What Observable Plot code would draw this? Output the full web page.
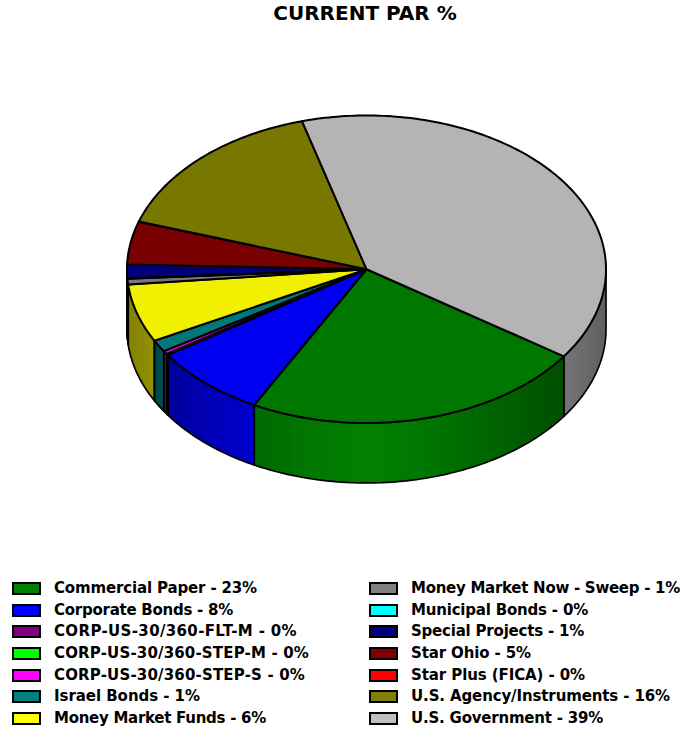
<!DOCTYPE html>
<html>
<head>
<meta charset="utf-8">
<script src="https://cdn.jsdelivr.net/npm/d3@7"></script>
<script src="https://cdn.jsdelivr.net/npm/@observablehq/plot@0.6"></script>
<style>
html,body{margin:0;padding:0;background:#fff;overflow:hidden;width:688px;height:734px;}
body{font-family:"DejaVu Sans",sans-serif;color:#000;position:relative;}
#title{height:30px;line-height:26px;text-align:center;font-weight:bold;font-size:20px;padding-left:42px;box-sizing:border-box;}
#chart{height:520px;}
#chart svg{display:block;}
#legend{position:absolute;left:0;top:577px;width:688px;}
.item{position:absolute;height:22px;line-height:22px;font-weight:bold;font-size:15px;white-space:nowrap;}
.sw{position:absolute;left:0;top:5px;width:25px;height:9px;border:2px solid #000;}
.lb{position:absolute;left:42px;top:0;}
</style>
</head>
<body>
<div id="title">CURRENT PAR %</div>
<div id="chart"></div>
<div id="legend"></div>
<script>
const categories = ["Commercial Paper","Corporate Bonds","CORP-US-30/360-FLT-M","CORP-US-30/360-STEP-M","CORP-US-30/360-STEP-S","Israel Bonds","Money Market Funds","Money Market Now - Sweep","Municipal Bonds","Special Projects","Star Ohio","Star Plus (FICA)","U.S. Agency/Instruments","U.S. Government"];
const values = [23.2,7.8,0.1,0.05,0.35,1.25,6.1,0.6,0.05,1.45,4.5,0.02,15.65,38.95];
const percentLabels = [23,8,0,0,0,1,6,1,0,1,5,0,16,39];
const colors = ["#008000","#0000ff","#800080","#00ff00","#ff00ff","#008080","#ffff00","#808080","#00ffff","#000080","#800000","#ff0000","#808000","#c0c0c0"];
const labelWidths = [203,179,243,255,251,146,212,269,177,173,120,174,259,192];
const startAngle = 34.5;
const depth = 0.39;

const total = d3.sum(values);
const rad = d => d * Math.PI / 180;
const shade = (c, f) => { const r = d3.rgb(c); return d3.rgb(r.r * f, r.g * f, r.b * f).formatHex(); };
const angles = (a0, a1, step = 1) => { const out = [a0]; for (let a = Math.ceil((a0 + 0.001) / step) * step; a < a1; a += step) out.push(a); out.push(a1); return out; };

let cursor = startAngle;
const slices = categories.map((name, i) => {
  const a0 = cursor; cursor += values[i] / total * 360;
  return {name, color: colors[i], a0, a1: cursor};
});

const topPts = [], sidePts = [], strips = [];
for (const s of slices) {
  const fillTop = shade(s.color, 0.94);
  topPts.push({id: s.name, x: 0, y: 0, fill: fillTop});
  for (const a of angles(s.a0, s.a1)) topPts.push({id: s.name, x: Math.cos(rad(a)), y: Math.sin(rad(a)), fill: fillTop});
  topPts.push({id: s.name, x: 0, y: 0, fill: fillTop});
  for (const [lo, hi] of [[0, 180], [360, 540]]) {
    const p = Math.max(s.a0, lo), q = Math.min(s.a1, hi);
    if (q <= p) continue;
    const as = angles(p, q), key = s.name + "|" + lo;
    const first = {id: key, x: Math.cos(rad(as[0])), y: Math.sin(rad(as[0]))};
    sidePts.push(first);
    for (const a of as.slice(1)) sidePts.push({id: key, x: Math.cos(rad(a)), y: Math.sin(rad(a))});
    for (const a of as.slice().reverse()) sidePts.push({id: key, x: Math.cos(rad(a)), y: Math.sin(rad(a)) + depth});
    sidePts.push(first);
    // shading bands: each band runs on past its end, the next one paints over it
    const bands = angles(p, q, 2);
    bands.slice(0, -1).forEach((a, k) => {
      const mid = Math.abs(Math.cos(rad((a + bands[k + 1]) / 2)));
      const col = shade(s.color, 1 - 0.5 * Math.pow(mid, 1.3));
      for (const t of angles(a, Math.min(q, bands[k + 1] + 2))) strips.push({id: key + "|" + String(k).padStart(4, "0"), x: Math.cos(rad(t)), y1: Math.sin(rad(t)), y2: Math.sin(rad(t)) + depth, color: col});
    });
  }
}

const plot = Plot.plot({
  width: 688, height: 520,
  marginTop: 0, marginBottom: 0, marginLeft: 0, marginRight: 0,
  x: {domain: [-1, 1], range: [126.5, 605.5], axis: null},
  y: {domain: [-1, 1], range: [85, 392.5], axis: null},
  marks: [
    Plot.areaY(strips, {x: "x", y1: "y1", y2: "y2", z: "id", fill: "color"}),
    Plot.line(sidePts, {x: "x", y: "y", z: "id", stroke: "#000", strokeWidth: 1.7, strokeLinejoin: "round"}),
    Plot.line(topPts, {x: "x", y: "y", z: "id", fill: "fill", stroke: "#000", strokeWidth: 2, strokeLinejoin: "round"})
  ]
});
document.getElementById("chart").append(plot);

const legend = document.getElementById("legend");
categories.forEach((name, i) => {
  const col = i < 7 ? 0 : 1, row = i % 7;
  const el = document.createElement("div");
  el.className = "item";
  el.style.left = (col ? 369 : 12) + "px";
  el.style.top = (row * 21.67) + "px";
  const sw = document.createElement("span");
  sw.className = "sw"; sw.style.background = colors[i];
  const lb = document.createElement("span");
  lb.className = "lb"; lb.textContent = `${name} - ${percentLabels[i]}%`;
  el.append(sw, lb);
  legend.append(el);
  const w = lb.getBoundingClientRect().width;
  lb.style.letterSpacing = ((labelWidths[i] - w) / lb.textContent.length) + "px";
});
</script>
</body>
</html>
